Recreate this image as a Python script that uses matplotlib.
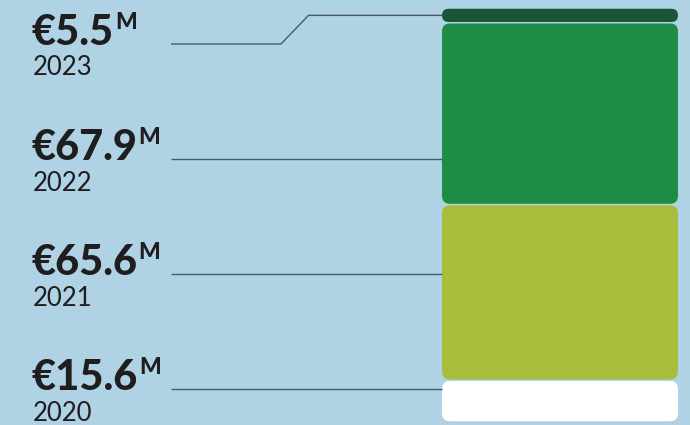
import matplotlib
matplotlib.use("Agg")
import matplotlib.pyplot as plt
from matplotlib.patches import FancyBboxPatch

# ---- data ----
years = ["2020", "2021", "2022", "2023"]
values = [15.6, 65.6, 67.9, 5.5]
labels = ["€15.6", "€65.6", "€67.9", "€5.5"]
unit = "M"
colors = ["#ffffff", "#a8bd3c", "#1f8c45", "#1b5538"]

# ---- style ----
BG = "#afd2e5"
TXT = "#1f1d1e"
LINE = "#4c5a62"
W, H = 690, 425
plt.rcParams['font.family'] = ['Lato', 'DejaVu Sans']

fig = plt.figure(figsize=(W / 100, H / 100), dpi=100, facecolor=BG)

# bar axes (pixel box of the stacked bar)
bx0, bx1, by_top, by_bot = 442, 678, 8, 422
bar_ax = fig.add_axes([bx0 / W, (H - by_bot) / H, (bx1 - bx0) / W, (by_bot - by_top) / H])
bar_ax.set_facecolor(BG)
bar_ax.axis("off")
total = sum(values)
bar_ax.set_xlim(-0.5, 0.5)
bar_ax.set_ylim(0, total)

bottoms = []
b = 0
for v in values:
    bottoms.append(b)
    b += v
bars = bar_ax.bar([0] * len(values), values, bottom=bottoms, width=1.0, color=colors)

xpu = 1.0 / (bx1 - bx0)
ypu = total / (by_bot - by_top)
aspect = ypu / xpu
gap_px = 0.75
for p, c in zip(bars.patches, colors):
    x, y, w, h = p.get_x(), p.get_y(), p.get_width(), p.get_height()
    p.set_visible(False)
    y0 = y + gap_px * ypu
    hh = h - 2 * gap_px * ypu
    h_px = hh / ypu
    r_px = min(8.0, h_px / 2)
    fb = FancyBboxPatch((x, y0), w, hh,
                        boxstyle=f"round,pad=0,rounding_size={r_px * xpu}",
                        mutation_aspect=aspect, facecolor=c, edgecolor="none")
    bar_ax.add_patch(fb)

# overlay axes in pixel coordinates (y down)
ov = fig.add_axes([0, 0, 1, 1], zorder=2)
ov.set_xlim(0, W)
ov.set_ylim(H, 0)
ov.axis("off")
ov.patch.set_alpha(0)

fig.canvas.draw()

label_x = 32
big_baselines = [390, 275, 160, 45]
year_baselines = [421, 306, 191, 75]
line_x0 = 171
for i in range(len(values)):
    t = ov.text(label_x, big_baselines[i], labels[i], fontsize=30, fontweight=900,
                color=TXT, va="baseline", ha="left")
    ov.annotate(unit, xy=(1, 1), xycoords=t, xytext=(0.5, 1.5), textcoords="offset points",
                fontsize=16.5, fontweight=900, color=TXT, va="top", ha="left")
    ov.text(label_x + 1, year_baselines[i], years[i], fontsize=18.5, color=TXT,
            va="baseline", ha="left")

    # leader line
    ly = big_baselines[i] - 1
    mid = bottoms[i] + values[i] / 2
    disp = bar_ax.transData.transform((0, mid))
    seg_y = H - disp[1]
    top_d = bar_ax.transData.transform((0, bottoms[i] + values[i]))
    bot_d = bar_ax.transData.transform((0, bottoms[i]))
    seg_top, seg_bot = H - top_d[1], H - bot_d[1]
    if seg_top + 2 <= ly <= seg_bot - 2:
        xs, ys = [line_x0, bx0], [ly, ly]
    else:
        kx = 281
        dy = ly - seg_y
        xs = [line_x0, kx, kx + abs(dy) * 0.96, bx0]
        ys = [ly, ly, seg_y, seg_y]
    ov.plot(xs, ys, color=LINE, lw=1.0, solid_capstyle="butt", solid_joinstyle="miter")

fig.savefig("out.png", dpi=100, facecolor=BG)
